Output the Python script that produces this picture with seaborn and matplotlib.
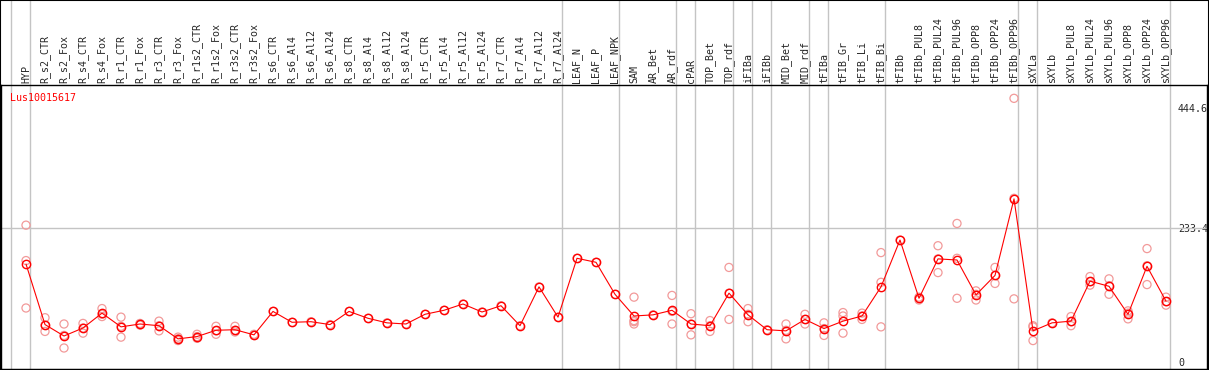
import numpy as np
import pandas as pd
import matplotlib
matplotlib.use("Agg")
import matplotlib.pyplot as plt
import seaborn as sns

categories = [
    "HYP", "R_s2_CTR", "R_s2_Fox", "R_s4_CTR", "R_s4_Fox", "R_r1_CTR", "R_r1_Fox",
    "R_r3_CTR", "R_r3_Fox", "R_r1s2_CTR", "R_r1s2_Fox", "R_r3s2_CTR", "R_r3s2_Fox",
    "R_s6_CTR", "R_s6_Al4", "R_s6_Al12", "R_s6_Al24", "R_s8_CTR", "R_s8_Al4",
    "R_s8_Al12", "R_s8_Al24", "R_r5_CTR", "R_r5_Al4", "R_r5_Al12", "R_r5_Al24",
    "R_r7_CTR", "R_r7_Al4", "R_r7_Al12", "R_r7_Al24", "LEAF_N", "LEAF_P", "LEAF_NPK",
    "SAM", "AR_Bet", "AR_rdf", "cPAR", "TOP_Bet", "TOP_rdf", "iFIBa", "iFIBb",
    "MID_Bet", "MID_rdf", "tFIBa", "tFIB_Gr", "tFIB_Li", "tFIB_Bi", "tFIBb",
    "tFIBb_PUL8", "tFIBb_PUL24", "tFIBb_PUL96", "tFIBb_OPP8", "tFIBb_OPP24",
    "tFIBb_OPP96", "sXYLa", "sXYLb", "sXYLb_PUL8", "sXYLb_PUL24", "sXYLb_PUL96",
    "sXYLb_OPP8", "sXYLb_OPP24", "sXYLb_OPP96",
]

mean_values = [
    171, 65, 45, 59, 85, 61, 66, 63, 40, 44, 55, 56, 47,
    88, 69, 70, 65, 88, 76, 68, 66, 83, 90, 101, 87, 98, 63, 131, 78,
    181, 174, 118,
    80, 82, 90, 66, 63, 120, 82, 56, 54, 74, 58, 71, 80, 131, 213,
    111, 180, 178, 117, 151, 285,
    54, 68, 71, 141, 132, 83, 167, 106,
]

replicate_values = [
    [239, 177, 94], [77, 53, 64], [66, 24, 46], [67, 50, 59], [93, 79, 83],
    [78, 43, 62], [67, 64, 66], [71, 54, 63], [43, 37, 40], [48, 41, 44],
    [62, 48, 54], [62, 52, 55], [48, 46, 47],
    [88], [69], [70], [65], [88], [76], [68], [66], [83], [90], [101], [87],
    [98], [63], [131], [78],
    [181], [174], [118],
    [113, 70, 66, 72], [82], [116, 66, 88], [84, 47, 66], [72, 53, 63],
    [165, 74, 120], [93, 70, 83], [56], [66, 40, 55], [83, 66, 74],
    [68, 46, 58], [86, 80, 50], [85, 74, 80], [191, 139, 61], [213],
    [111, 108, 113], [203, 156, 180], [242, 111, 181], [124, 108, 118],
    [165, 137, 151], [461, 110, 286],
    [61, 37, 63], [68], [79, 63, 70], [149, 134, 140], [145, 118, 133],
    [89, 75, 85], [198, 135, 168], [113, 99, 105],
]

group_ends = [-1, 0, 28, 31, 34, 35, 37, 38, 39, 41, 42, 45, 52, 53, 60]
y_labels = [0, 233.4, 444.6]
grid_values = [233.4]
gene_name = "Lus10015617"

sns.set_theme(style="white")
plt.rcParams["font.family"] = ["DejaVu Sans Mono", "DejaVu Sans"]

W, H, DPI = 1209, 370, 100
fig = plt.figure(figsize=(W / DPI, H / DPI), dpi=DPI)
ax_left, ax_right, ax_top, ax_bottom = 1, 1207, 85, 369
ax = fig.add_axes([ax_left / W, 1 - ax_bottom / H,
                   (ax_right - ax_left) / W, (ax_bottom - ax_top) / H])

pos = np.arange(len(categories))
rep_pos = [p for p, reps in zip(pos, replicate_values) for _ in reps]
rep_val = [v for reps in replicate_values for v in reps]
df_rep = pd.DataFrame({"pos": rep_pos, "value": rep_val})
df_mean = pd.DataFrame({"pos": pos, "value": mean_values})

red = "#ff0000"
pink = "#f29a9a"

# separators and gridline
axh = ax_bottom - ax_top
for g in group_ends:
    ax.axvline(g + 0.23, ymin=0, ymax=ax_bottom / axh, color="#c4c4c4",
               lw=1.0, clip_on=False, zorder=1)
for gv in grid_values:
    ax.axhline(gv, color="#c4c4c4", lw=1.0, zorder=1)

sns.scatterplot(data=df_rep, x="pos", y="value", ax=ax, marker="o", s=34,
                facecolors="none", edgecolor=pink, linewidth=0.9, zorder=2,
                legend=False)
sns.lineplot(data=df_mean, x="pos", y="value", ax=ax, color=red, lw=0.8,
             marker="o", markersize=6, markerfacecolor="none",
             markeredgecolor=red, markeredgewidth=1.0, zorder=3, legend=False)

ax.set_xlim((ax_left - 26) / 19.0, (ax_right - 26) / 19.0)
scale = 0.5713
ax.set_ylim(-(ax_bottom - 361.7) / scale, (361.7 - ax_top) / scale)

ax.set_xticks(pos)
ax.set_xticklabels(categories, rotation=90, fontsize=7.2)
ax.xaxis.tick_top()
ax.tick_params(axis="x", length=0, pad=1.4, top=True, bottom=False,
               labeltop=True, labelbottom=False)
ax.set_yticks(y_labels)
ax.set_yticklabels([f"{v:g}" for v in y_labels], fontsize=7.2)
ax.yaxis.tick_right()
ax.tick_params(axis="y", length=0, pad=-20.9, right=True, left=False)
for lab in ax.get_yticklabels():
    lab.set_horizontalalignment("left")
ax.set_xlabel("")
ax.set_ylabel("")

for sp in ax.spines.values():
    sp.set_color("black")
    sp.set_linewidth(1.0)
    sp.set_visible(True)

ax.text(0.0075, 0.955, gene_name, transform=ax.transAxes, color=red,
        fontsize=7.2, ha="left", va="center")

fig.patches.append(plt.Rectangle((0, 0), 1, 1, transform=fig.transFigure,
                                 fill=False, edgecolor="black", lw=1.5))

fig.savefig("out.png", dpi=DPI, facecolor="white")
